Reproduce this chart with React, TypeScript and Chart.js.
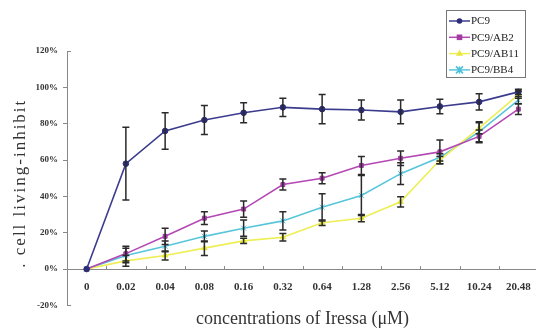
import React, { useEffect, useRef } from "react";
import { Chart, registerables } from "chart.js";

Chart.register(...registerables);

const categories = ["0", "0.02", "0.04", "0.08", "0.16", "0.32", "0.64", "1.28", "2.56", "5.12", "10.24", "20.48"];
const seriesNames = ["PC9", "PC9/AB2", "PC9/AB11", "PC9/BB4"];
const pc9 = [0, 58, 76, 82, 86, 89, 88, 87.5, 86.5, 89.5, 92, 97.5];
const pc9Err = [0, 20, 10, 8, 5.5, 5, 8, 5.5, 6.5, 4, 4.5, 1.5];
const ab2 = [0, 8.5, 18, 28, 33, 46.5, 50, 57, 61, 64.5, 73, 88];
const ab2Err = [0, 4, 4.5, 3.5, 4.5, 3, 3, 5, 4, 6.5, 3.5, 3];
const ab11 = [0, 4.5, 7.5, 11.5, 15.5, 17.5, 25.5, 28, 37, 60, 77.5, 96];
const ab11Err = [0, 3, 2.5, 4, 1.5, 2, 1.5, 2, 2.8, 2, 3, 2];
const bb4 = [0, 7.5, 12.5, 18, 22.5, 26.5, 34, 40.5, 52.5, 61.5, 75.5, 93];
const bb4Err = [0, 4, 3, 3, 4.5, 5, 7.5, 11, 6, 2, 5.5, 2];
const yMin = -20;
const yMax = 120;
const yStep = 20;
const xTitle = "concentrations of Iressa (\u03bcM)";
const yTitle = ". cell living-inhibit";

const errorBarPlugin = {
  id: "errorBars",
  afterDatasetsDraw(chart: any) {
    const ctx = chart.ctx;
    const yScale = chart.scales.y;
    ctx.save();
    ctx.strokeStyle = "#2a2a2a";
    ctx.lineWidth = 1.5;
    chart.data.datasets.forEach((ds: any, di: number) => {
      const meta = chart.getDatasetMeta(di);
      const errs = ds.errors || [];
      meta.data.forEach((pt: any, i: number) => {
        const e = errs[i];
        if (!e) return;
        const v = ds.data[i];
        const yt = yScale.getPixelForValue(v + e);
        const yb = yScale.getPixelForValue(v - e);
        const x = pt.x;
        ctx.beginPath();
        ctx.moveTo(x, yt);
        ctx.lineTo(x, yb);
        ctx.moveTo(x - 3.5, yt);
        ctx.lineTo(x + 3.5, yt);
        ctx.moveTo(x - 3.5, yb);
        ctx.lineTo(x + 3.5, yb);
        ctx.stroke();
      });
    });
    ctx.restore();
  },
};

const axisDecorPlugin = {
  id: "axisDecor",
  afterDraw(chart: any) {
    const ctx = chart.ctx;
    const xs = chart.scales.x;
    const ys = chart.scales.y;
    const y0 = ys.getPixelForValue(0);
    const x0 = ys.right;
    ctx.save();
    ctx.strokeStyle = "#888";
    ctx.lineWidth = 1;
    ctx.beginPath();
    for (let i = 1; i < categories.length; i++) {
      const xb = Math.round((xs.getPixelForValue(i - 1) + xs.getPixelForValue(i)) / 2) + 0.5;
      ctx.moveTo(xb, y0);
      ctx.lineTo(xb, y0 - 3);
    }
    const yt = Math.round(ys.getPixelForValue(yMax)) + 0.5;
    const yb = Math.round(ys.getPixelForValue(yMin)) + 0.5;
    ctx.moveTo(x0, yt);
    ctx.lineTo(x0 + 4, yt);
    ctx.moveTo(x0, yb);
    ctx.lineTo(x0 + 4, yb);
    ctx.stroke();
    // rotated y-axis title with letter spacing
    const cy = (ys.top + ys.bottom) / 2 + 5;
    ctx.translate(21, cy);
    ctx.rotate(-Math.PI / 2);
    ctx.font = "17px 'Liberation Serif', serif";
    (ctx as any).letterSpacing = "2px";
    ctx.fillStyle = "#333";
    ctx.textAlign = "center";
    ctx.textBaseline = "middle";
    ctx.fillText(yTitle, 0, 0);
    ctx.restore();
  },
};

function drawMarker(ctx: any, style: string, x: number, y: number, r: number, color: string) {
  ctx.save();
  ctx.fillStyle = color;
  ctx.strokeStyle = color;
  ctx.lineWidth = 1.5;
  ctx.beginPath();
  if (style === "circle") {
    ctx.arc(x, y, r, 0, Math.PI * 2);
    ctx.fill();
  } else if (style === "rect") {
    ctx.fillRect(x - r, y - r, 2 * r, 2 * r);
  } else if (style === "triangle") {
    ctx.moveTo(x, y - r * 1.2);
    ctx.lineTo(x + r * 1.1, y + r * 0.7);
    ctx.lineTo(x - r * 1.1, y + r * 0.7);
    ctx.closePath();
    ctx.fill();
  } else {
    ctx.moveTo(x - r, y - r);
    ctx.lineTo(x + r, y + r);
    ctx.moveTo(x - r, y + r);
    ctx.lineTo(x + r, y - r);
    ctx.moveTo(x, y - r);
    ctx.lineTo(x, y + r);
    ctx.stroke();
  }
  ctx.restore();
}

const legendPlugin = {
  id: "boxLegend",
  afterDraw(chart: any) {
    const ctx = chart.ctx;
    const bx = 446, by = 10, bw = 79, bh = 67;
    ctx.save();
    ctx.fillStyle = "#fff";
    ctx.fillRect(bx, by, bw, bh);
    ctx.strokeStyle = "#777";
    ctx.lineWidth = 1;
    ctx.strokeRect(bx + 0.5, by + 0.5, bw, bh);
    ctx.font = "11px 'Liberation Serif', serif";
    ctx.textBaseline = "middle";
    chart.data.datasets.forEach((ds: any, i: number) => {
      const y = 21 + i * 16.3;
      ctx.strokeStyle = ds.borderColor;
      ctx.lineWidth = 1.5;
      ctx.beginPath();
      ctx.moveTo(449, y);
      ctx.lineTo(470, y);
      ctx.stroke();
      drawMarker(ctx, ds.pointStyle, 459.5, y, ds.pointRadius, ds.pointBackgroundColor);
      ctx.fillStyle = "#222";
      ctx.fillText(ds.label, 471, y + 0.5);
    });
    ctx.restore();
  },
};

export default function App() {
  const canvasRef = useRef<HTMLCanvasElement | null>(null);

  useEffect(() => {
    const canvas = canvasRef.current;
    if (!canvas) return;
    const mk = (label: string, data: number[], errors: number[], color: string, pcolor: string, style: string, r: number) => ({
      label,
      data,
      errors,
      borderColor: color,
      backgroundColor: pcolor,
      pointBackgroundColor: pcolor,
      pointBorderColor: pcolor,
      pointStyle: style,
      pointRadius: r,
      pointBorderWidth: 1,
      borderWidth: 1.6,
      tension: 0,
      fill: false,
    });
    const chart = new Chart(canvas, {
      type: "line",
      data: {
        labels: categories,
        datasets: [
          mk(seriesNames[0], pc9, pc9Err, "#3c3c8e", "#2c2c78", "circle", 2.8),
          mk(seriesNames[1], ab2, ab2Err, "#b448b4", "#a23ca2", "rect", 2.8),
          mk(seriesNames[2], ab11, ab11Err, "#eeee55", "#e6e63c", "triangle", 3.2),
          mk(seriesNames[3], bb4, bb4Err, "#58c6da", "#4cc0d6", "crossRot", 3.5),
        ] as any,
      },
      options: {
        animation: false,
        responsive: false,
        maintainAspectRatio: false,
        layout: { padding: { top: 51, right: 0, left: 0, bottom: 0 } },
        plugins: {
          legend: { display: false },
          tooltip: { enabled: false },
          title: {
            display: true,
            position: "bottom",
            fullSize: false,
            text: xTitle,
            color: "#333",
            font: { family: "'Liberation Serif', serif", size: 18, weight: "normal" },
            padding: { top: 3, bottom: 2 },
          },
        },
        scales: {
          x: {
            type: "category",
            offset: true,
            position: { y: 0 } as any,
            grid: { display: false, drawTicks: false },
            border: { display: true, color: "#888", width: 1 },
            ticks: {
              color: "#333",
              padding: 11,
              maxRotation: 0,
              autoSkip: false,
              font: { family: "'Liberation Serif', serif", size: 11, weight: "bold" },
            },
          },
          y: {
            min: yMin,
            max: yMax,
            afterFit: (scale: any) => {
              scale.width = 67;
            },
            grid: {
              drawOnChartArea: false,
              drawTicks: true,
              tickLength: 4,
              color: (c: any) => (c.tick && (c.tick.value === yMin || c.tick.value === yMax) ? "rgba(0,0,0,0)" : "#888"),
            },
            border: { display: true, color: "#888", width: 1 },
            ticks: {
              stepSize: yStep,
              padding: 5,
              color: "#333",
              font: { family: "'Liberation Serif', serif", size: 9, weight: "bold" },
              callback: (v: any) => v + "%",
            },
            title: { display: false },
          },
        },
      } as any,
      plugins: [errorBarPlugin, axisDecorPlugin, legendPlugin],
    });
    return () => chart.destroy();
  }, []);

  return (
    <div style={{ position: "fixed", left: 0, top: 0, width: 536, height: 332, overflow: "hidden", background: "#fff" }}>
      <canvas ref={canvasRef} width={543} height={332} style={{ display: "block" }} />
    </div>
  );
}
